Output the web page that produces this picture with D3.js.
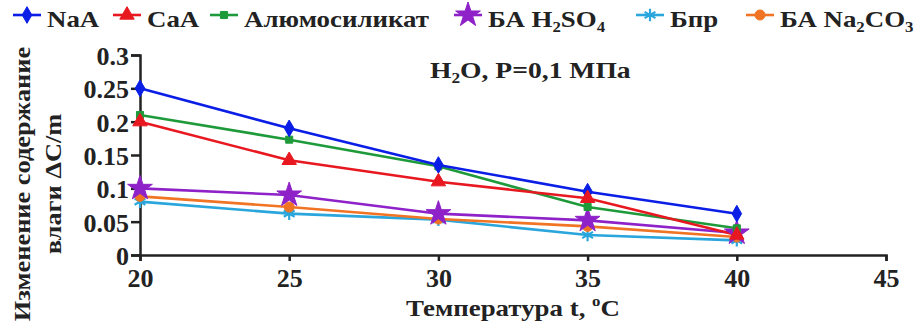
<!DOCTYPE html>
<html lang="ru">
<head>
<meta charset="UTF-8"/>
<script src="https://d3js.org/d3.v7.min.js"></script>
<style>
  body { margin: 0; background: #fff; }
  text { font-family: "Liberation Serif", "Times New Roman", serif; font-weight: bold; fill: #222; }
</style>
</head>
<body>
<script>
// values
var temps   = [20, 25, 30, 35, 40];
var xTicks  = [20, 25, 30, 35, 40, 45];
var yTicks  = [0, 0.05, 0.1, 0.15, 0.2, 0.25, 0.3];

var seriesNames = ["NaA", "CaA", "Алюмосиликат", "БА H_2SO_4", "Бпр", "БА Na_2CO_3"];
var naA      = [0.25, 0.19, 0.135, 0.095, 0.062];
var caA      = [0.20, 0.142, 0.11, 0.085, 0.03];
var alumo    = [0.21, 0.173, 0.133, 0.072, 0.04];
var baH2so4  = [0.10, 0.09, 0.062, 0.052, 0.033];
var bpr      = [0.08, 0.062, 0.053, 0.03, 0.022];
var baNa2co3 = [0.088, 0.072, 0.054, 0.043, 0.027];

var seriesValues = [naA, caA, alumo, baH2so4, bpr, baNa2co3];
var colors  = ["#0a1ee6", "#e81820", "#1f9a3a", "#8e22c8", "#2aa6dc", "#f07424"];
var symbols = [d3.symbolDiamond, d3.symbolTriangle, d3.symbolSquare, d3.symbolStar, d3.symbolAsterisk, d3.symbolCircle];
var symSize = [80, 90, 50, 190, 110, 80];
var drawOrder = [4, 5, 3, 2, 0, 1];

var w = 922, h = 326;
var legendLineX = [13, 113, 210, 454, 636, 746];

var svg = d3.select("body").append("svg")
    .attr("width", w)
    .attr("height", h);

var xScale = d3.scaleLinear().domain([20, 45]).range([140, 886]);
var yScale = d3.scaleLinear().domain([0, 0.3]).range([255, 55]);

// writes "A_2B" with the char after "_" as subscript
function richText(sel, str, sub) {
    var parts = str.split("_");
    sel.append("tspan").text(parts[0]);
    for (var i = 1; i < parts.length; i++) {
        sel.append("tspan").attr("font-size", sub).attr("dy", 5).text(parts[i][0]);
        sel.append("tspan").attr("dy", -5).text(parts[i].slice(1));
    }
}

// axes
var xAxis = d3.axisBottom(xScale).tickValues(xTicks).tickSize(6).tickPadding(5).tickFormat(d3.format("d"));
var yAxis = d3.axisLeft(yScale).tickValues(yTicks).tickSize(9).tickPadding(2)
    .tickFormat(function(d) { return String(+d.toFixed(2)); });

var gx = svg.append("g").attr("transform", "translate(0," + yScale(0) + ")").call(xAxis);
var gy = svg.append("g").attr("transform", "translate(" + xScale(20) + ",0)").call(yAxis);

[gx, gy].forEach(function(g) {
    g.attr("font-family", null).attr("font-size", null);
    g.select(".domain").attr("stroke", "#222").attr("stroke-width", 2.5);
    g.selectAll(".tick line").attr("stroke", "#222").attr("stroke-width", 2.5);
    g.selectAll(".tick text")
        .style("font-family", "'Liberation Serif', serif")
        .style("font-weight", "bold")
        .style("font-size", "26px")
        .attr("fill", "#222");
});
gy.selectAll(".tick text").attr("dy", "0.36em");
gx.selectAll(".tick text").attr("dy", "0.8em");

// lines and markers
var line = d3.line()
    .x(function(d, i) { return xScale(temps[i]); })
    .y(function(d) { return yScale(d); });

drawOrder.forEach(function(s) {
    svg.append("path")
        .attr("d", line(seriesValues[s]))
        .attr("fill", "none")
        .attr("stroke", colors[s])
        .attr("stroke-width", 2.6);
});

function marker(g, s) {
    var stroked = symbols[s] === d3.symbolAsterisk;
    g.attr("d", d3.symbol().type(symbols[s]).size(symSize[s])())
     .attr("fill", stroked ? "none" : colors[s])
     .attr("stroke", colors[s])
     .attr("stroke-width", stroked ? 2.2 : 1);
}

drawOrder.forEach(function(s) {
    svg.selectAll(null)
        .data(seriesValues[s])
        .enter()
        .append("path")
        .attr("transform", function(d, i) {
            return "translate(" + xScale(temps[i]) + "," + yScale(d) + ")";
        })
        .each(function() { marker(d3.select(this), s); });
});

// legend
seriesNames.forEach(function(name, s) {
    var lx = legendLineX[s];
    var g = svg.append("g");
    g.append("line")
        .attr("x1", lx).attr("x2", lx + 28)
        .attr("y1", 15).attr("y2", 15)
        .attr("stroke", colors[s]).attr("stroke-width", 2.6);
    g.append("path")
        .attr("transform", "translate(" + (lx + 14) + ",15)")
        .each(function() { marker(d3.select(this), s); });
    var t = g.append("text")
        .attr("x", 0).attr("y", 0)
        .attr("font-size", 24)
        .attr("transform", "translate(" + (lx + 34) + ",27) scale(1.12,1)");
    richText(t, name, 15);
});

// note inside the plot
var note = svg.append("text")
    .attr("font-size", 24)
    .attr("transform", "translate(430,78) scale(1.15,1)");
richText(note, "H_2O, P=0,1 МПа", 15);

// axis titles
var xt = svg.append("text")
    .attr("text-anchor", "middle")
    .attr("font-size", 24)
    .attr("transform", "translate(" + ((xScale(20) + xScale(45)) / 2) + ",316) scale(1.12,1)");
xt.append("tspan").text("Температура t, ");
xt.append("tspan").attr("font-size", 15).attr("dy", -10).text("o");
xt.append("tspan").attr("dy", 10).text("C");

svg.append("text")
    .attr("transform", "translate(30,184) rotate(-90) scale(1.1,1)")
    .attr("text-anchor", "middle")
    .attr("font-size", 24)
    .text("Изменение содержание");

svg.append("text")
    .attr("transform", "translate(61,184) rotate(-90) scale(1.1,1)")
    .attr("text-anchor", "middle")
    .attr("font-size", 24)
    .text("влаги ΔC/m");
</script>
</body>
</html>
